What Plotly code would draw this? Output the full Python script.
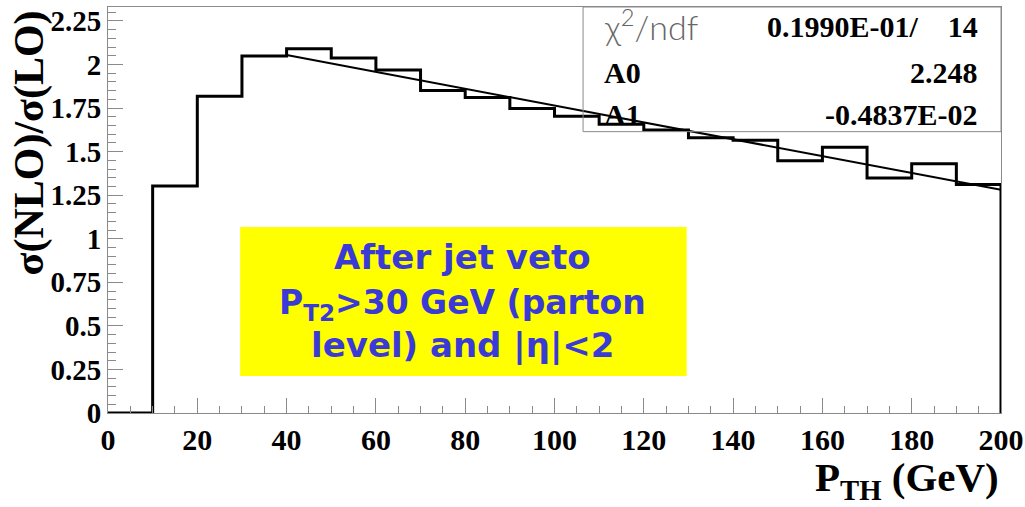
import plotly.graph_objects as go

# Histogram: ratio sigma(NLO)/sigma(LO) in 10 GeV bins of P_TH
bin_edges = [0, 10, 20, 30, 40, 50, 60, 70, 80, 90, 100,
             110, 120, 130, 140, 150, 160, 170, 180, 190, 200]
ratio = [0.0, 1.303, 1.818, 2.049, 2.090, 2.037, 1.968, 1.851, 1.810, 1.747,
         1.703, 1.657, 1.624, 1.580, 1.566, 1.447, 1.525, 1.349, 1.430, 1.311]

# Linear fit results (pol1) and fit range
chi2_ndf_text = "0.1990E-01/&nbsp;&nbsp;&nbsp;&nbsp;14"
A0 = 2.248
A1 = -0.4837e-02
A0_text = "2.248"
A1_text = "-0.4837E-02"
fit_range = [40, 200]

x_ticks = list(range(0, 201, 20))
y_ticks = [0, 0.25, 0.5, 0.75, 1, 1.25, 1.5, 1.75, 2, 2.25]
y_ticktext = ["0", "0.25", "0.5", "0.75", "1", "1.25", "1.5", "1.75", "2", "2.25"]

# Step outline: every bin drawn flat, closing down to zero at the last edge
step_x = bin_edges[:-1] + [bin_edges[-1], bin_edges[-1]]
step_y = ratio + [ratio[-1], 0.0]

fit_x = fit_range
fit_y = [A0 + A1 * xv for xv in fit_range]

fig = go.Figure()
fig.add_trace(go.Scatter(
    x=step_x, y=step_y, mode="lines", line_shape="hv",
    line=dict(color="black", width=3), hoverinfo="skip", showlegend=False,
))
fig.add_trace(go.Scatter(
    x=fit_x, y=fit_y, mode="lines",
    line=dict(color="black", width=2), hoverinfo="skip", showlegend=False,
))

serif = "Liberation Serif"
axis_grey = "#8a8a8a"

fig.update_xaxes(
    range=[0, 200], tickvals=x_ticks, ticks="inside", ticklen=15, tickwidth=1,
    tickcolor=axis_grey, showline=True, linecolor=axis_grey, linewidth=1,
    mirror=True, showgrid=False, zeroline=False, automargin=False,
    tickfont=dict(family=serif, size=30, color="black", weight="bold"),
    minor=dict(dtick=5, ticks="inside", ticklen=7, tickcolor=axis_grey, showgrid=False),
)
fig.update_yaxes(
    range=[0, 2.33], tickvals=y_ticks, ticktext=y_ticktext, ticks="inside",
    ticklen=15, tickwidth=1, tickcolor=axis_grey, showline=True,
    linecolor=axis_grey, linewidth=1, mirror=True, showgrid=False, zeroline=False,
    automargin=False,
    tickfont=dict(family=serif, size=29, color="black", weight="bold"),
    minor=dict(dtick=0.05, ticks="inside", ticklen=8, tickcolor=axis_grey, showgrid=False),
)

shapes = [
    # fit statistics box
    dict(type="rect", xref="paper", yref="paper", x0=0.532, x1=1.0, y0=0.693, y1=1.0,
         line=dict(color=axis_grey, width=1), fillcolor="rgba(0,0,0,0)", layer="above"),
    # yellow caption box
    dict(type="rect", xref="paper", yref="paper", x0=0.148, x1=0.648, y0=0.091, y1=0.458,
         line=dict(width=0), fillcolor="#ffff00", layer="below"),
]

blue = "#3a3ad6"
cap_font = dict(family="DejaVu Sans", size=34, color=blue, weight="bold")
stat_val_font = dict(family=serif, size=30, color="black", weight="bold")

annotations = [
    # axis titles
    dict(text="σ(NLO)/σ(LO)", xref="paper", yref="paper", x=-0.088, y=0.665,
         textangle=-90, showarrow=False, xanchor="center", yanchor="middle",
         font=dict(family=serif, size=42, color="black", weight="bold")),
    dict(text="P<sub>TH</sub> (GeV)", xref="paper", yref="paper", x=1.0, y=-0.166,
         showarrow=False, xanchor="right", yanchor="middle",
         font=dict(family=serif, size=41, color="black", weight="bold")),
    # fit statistics
    dict(text="χ<sup>2</sup>/ndf", xref="paper", yref="paper", x=0.553, y=0.955,
         showarrow=False, xanchor="left", yanchor="middle",
         font=dict(family="Lato", size=34, color="#666666", weight=300)),
    dict(text=chi2_ndf_text, xref="paper", yref="paper", x=0.977, y=0.952,
         showarrow=False, xanchor="right", yanchor="middle", font=stat_val_font),
    dict(text="A0", xref="paper", yref="paper", x=0.553, y=0.838,
         showarrow=False, xanchor="left", yanchor="middle", font=stat_val_font),
    dict(text=A0_text, xref="paper", yref="paper", x=0.977, y=0.838,
         showarrow=False, xanchor="right", yanchor="middle", font=stat_val_font),
    dict(text="A1", xref="paper", yref="paper", x=0.553, y=0.734,
         showarrow=False, xanchor="left", yanchor="middle", font=stat_val_font),
    dict(text=A1_text, xref="paper", yref="paper", x=0.977, y=0.734,
         showarrow=False, xanchor="right", yanchor="middle", font=stat_val_font),
    # caption
    dict(text="After jet veto", xref="paper", yref="paper", x=0.3975, y=0.384,
         showarrow=False, xanchor="center", yanchor="middle", font=cap_font),
    dict(text="P<sub>T2</sub>>30 GeV (parton", xref="paper", yref="paper", x=0.3975, y=0.268,
         showarrow=False, xanchor="center", yanchor="middle",
         font=dict(family="DejaVu Sans", size=33, color=blue, weight="bold")),
    dict(text="level) and |η|<2", xref="paper", yref="paper", x=0.3975, y=0.167,
         showarrow=False, xanchor="center", yanchor="middle", font=cap_font),
]

fig.update_layout(
    width=1025, height=507,
    margin=dict(l=108, r=24, t=7, b=94),
    paper_bgcolor="white", plot_bgcolor="white",
    shapes=shapes, annotations=annotations,
)

fig.write_html("out.html")
